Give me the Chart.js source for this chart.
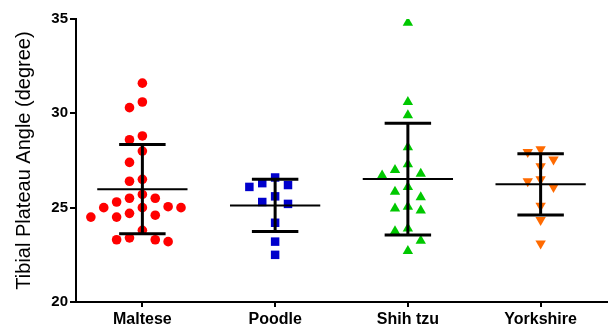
<!DOCTYPE html>
<html>
<head>
<meta charset="utf-8">
<script src="https://cdn.jsdelivr.net/npm/chart.js@4"></script>
<style>
  body { margin: 0; background: #fff; }
  #wrap { width: 613px; height: 325px; }
</style>
</head>
<body>
<div id="wrap"><canvas id="tpaChart" width="613" height="325"></canvas></div>
<script>
// values (degrees)
const categories = ['Maltese', 'Poodle', 'Shih tzu', 'Yorkshire'];
const maltese = [31.6, 30.6, 30.3, 28.8, 28.6, 28.0, 27.4, 26.5, 26.4, 25.7, 25.5, 25.5, 25.3, 25.05, 25.0, 25.0, 25.0, 24.7, 24.6, 24.5, 24.5, 23.8, 23.4, 23.3, 23.3, 23.2];
const poodle = [26.6, 26.3, 26.2, 26.1, 25.6, 25.3, 25.2, 24.2, 23.2, 22.5];
const shihTzu = [34.8, 30.6, 29.9, 28.2, 27.3, 27.0, 26.8, 26.7, 26.1, 25.85, 25.55, 25.05, 24.95, 24.85, 23.9, 23.75, 23.25, 22.7];
const yorkshire = [28.1, 27.95, 27.55, 27.2, 26.5, 26.4, 26.1, 25.1, 24.35, 23.1];
const yTicks = [20, 25, 30, 35];

const groups = [maltese, poodle, shihTzu, yorkshire];
const colors = ['#ff0000', '#0000cc', '#00c800', '#ff6a00'];
const styles = ['circle', 'rect', 'triangle', 'triangle'];

// simple beeswarm so points with close values sit side by side
function swarm(values, center) {
    const step = 0.097, gap = 0.66;
    const placed = [];
    const sorted = values.slice().sort((a, b) => b - a);
    sorted.forEach(v => {
        let k = 0;
        for (let n = 0; n < 20; n++) {
            k = n === 0 ? 0 : (n % 2 ? -(n + 1) / 2 : n / 2);
            const hit = placed.some(p => p.k === k && Math.abs(p.y - v) < gap);
            if (!hit) break;
        }
        placed.push({ k: k, y: v });
    });
    return placed.map(p => ({ x: center + p.k * step, y: p.y }));
}

function mean(a) { return a.reduce((s, v) => s + v, 0) / a.length; }
function sd(a) {
    const m = mean(a);
    return Math.sqrt(a.reduce((s, v) => s + (v - m) * (v - m), 0) / (a.length - 1));
}

const meanLines = [];
const sdBars = [];
groups.forEach((g, i) => {
    const c = i + 1, m = mean(g), s = sd(g);
    meanLines.push({ x: c - 0.34, y: m }, { x: c + 0.34, y: m }, { x: c, y: null });
    sdBars.push({ x: c - 0.175, y: m + s }, { x: c + 0.175, y: m + s }, { x: c, y: null });
    sdBars.push({ x: c, y: m + s }, { x: c, y: m - s }, { x: c, y: null });
    sdBars.push({ x: c - 0.175, y: m - s }, { x: c + 0.175, y: m - s }, { x: c, y: null });
});

const datasets = [
    { data: meanLines, showLine: true, borderColor: '#000', borderWidth: 2, pointRadius: 0, spanGaps: false },
    { data: sdBars, showLine: true, borderColor: '#000', borderWidth: 3, pointRadius: 0, spanGaps: false }
];
groups.forEach((g, i) => {
    datasets.push({
        data: swarm(g, i + 1),
        pointStyle: styles[i],
        pointRotation: i === 3 ? 180 : 0,
        pointRadius: i === 0 ? 4.8 : 6,
        backgroundColor: colors[i],
        borderColor: colors[i],
        borderWidth: 0
    });
});

const ctx = document.getElementById('tpaChart');
new Chart(ctx, {
    type: 'scatter',
    data: { datasets: datasets },
    options: {
        responsive: false,
        animation: false,
        layout: { padding: { top: 19, right: 1, left: 0, bottom: 0 } },
        plugins: { legend: { display: false }, tooltip: { enabled: false } },
        scales: {
            x: {
                type: 'linear',
                min: 0.5,
                max: 4.5,
                afterBuildTicks: scale => { scale.ticks = [1, 2, 3, 4].map(v => ({ value: v })); },
                afterFit: scale => { scale.height = 23; },
                border: { display: true, color: '#000', width: 2 },
                grid: { drawOnChartArea: false, drawTicks: true, tickLength: 5, color: '#000', lineWidth: 2 },
                ticks: {
                    autoSkip: false,
                    maxRotation: 0,
                    padding: 3,
                    color: '#000',
                    font: { family: 'Liberation Sans, Arial', size: 16, weight: 'bold' },
                    callback: v => categories[v - 1]
                }
            },
            y: {
                min: 20,
                max: 35,
                afterBuildTicks: scale => { scale.ticks = yTicks.map(v => ({ value: v })); },
                afterFit: scale => { scale.width = 76; },
                border: { display: true, color: '#000', width: 2 },
                grid: { drawOnChartArea: false, drawTicks: true, tickLength: 6, color: '#000', lineWidth: 2 },
                ticks: {
                    padding: 2,
                    color: '#000',
                    font: { family: 'Liberation Sans, Arial', size: 15, weight: 'bold' }
                },
                title: {
                    display: true,
                    text: 'Tibial Plateau Angle (degree)',
                    color: '#000',
                    padding: { top: 12, bottom: 0 },
                    font: { family: 'Liberation Sans, Arial', size: 20 }
                }
            }
        }
    }
});
</script>
</body>
</html>
